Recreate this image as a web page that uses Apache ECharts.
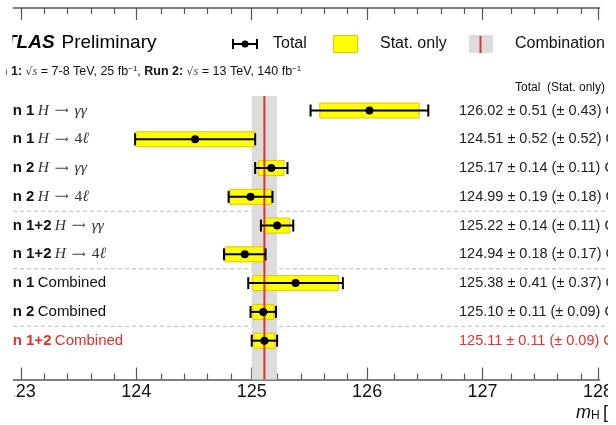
<!DOCTYPE html>
<html><head><meta charset="utf-8">
<script src="https://cdn.jsdelivr.net/npm/echarts@6/dist/echarts.min.js"></script>
<style>html,body{margin:0;padding:0;background:#fff}#c{width:616px;height:425px}</style>
</head><body><div id="c"></div>
<script>
// ---------- data ----------
const runs = ['Run 1','Run 1','Run 2','Run 2','Run 1+2','Run 1+2','Run 1','Run 2','Run 1+2'];
const channels = ['gg','4l','gg','4l','gg','4l','comb','comb','comb'];
const central = [126.02,124.51,125.17,124.99,125.22,124.94,125.38,125.10,125.11];
const totalErr = [0.51,0.52,0.14,0.19,0.14,0.18,0.41,0.11,0.11];
const statErr  = [0.43,0.52,0.11,0.18,0.11,0.17,0.37,0.09,0.09];
const combination = [125.11];
const combinationErr = [0.11];
const majorTicks = [123,124,125,126,127,128];
const minorPerMajor = 5;
const separators = [4.5,6.5,8.5];

const RED = '#e3302a';
const rowData = central.map((c,i)=>[i+1, c, totalErr[i], statErr[i]]);
const minorTicks = [];
for (let k=0;k<majorTicks.length-1;k++){
  for (let j=1;j<minorPerMajor;j++) minorTicks.push(+(majorTicks[k]+(majorTicks[k+1]-majorTicks[k])*j/minorPerMajor).toFixed(3));
}
const XMIN = 122.932, XMAX = 128.014;
const AX = '#555';

function rowLabel(i){
  const red = i===runs.length-1;
  const sfx = red ? 'R' : '';
  let ch;
  if (channels[i]==='gg') ch = '{hi|H}{ar|  ⟶  }{hi|γγ}';
  else if (channels[i]==='4l') ch = '{hi|H}{ar|  ⟶  }{hn|4}{hi|ℓ}';
  else ch = '{c'+sfx+'|Combined}';
  return '{b'+sfx+'|'+runs[i]+'} '+ch;
}
function mkRich(color){
  return {
    b:{fontFamily:'Liberation Sans',fontWeight:'bold',fontSize:15,fill:color},
    c:{fontFamily:'Liberation Sans',fontSize:15,fill:color}
  };
}
const richAll = Object.assign({
  hi:{fontFamily:'Liberation Serif',fontStyle:'italic',fontSize:15.5,fill:'#333'},
  hn:{fontFamily:'Liberation Serif',fontSize:15.5,fill:'#333'},
  ar:{fontFamily:'DejaVu Sans',fontSize:9.5,fill:'#444'}
}, mkRich('#111'));
const richRed = mkRich(RED);
for (const k in richRed) richAll[k+'R'] = richRed[k];

const chart = echarts.init(document.getElementById('c'), null, {renderer:'canvas'});

const gridBox = {left:13, right:10, top:8, bottom:45.5, containLabel:false};
const xBase = {type:'value', min:XMIN, max:XMAX, splitLine:{show:false}};
const tickStyle = {color:AX, width:1.2};
const option = {
  animation:false,
  grid:[Object.assign({}, gridBox), Object.assign({}, gridBox)],
  xAxis:[
    Object.assign({}, xBase, {gridIndex:0, position:'bottom',
      axisLine:{show:true, onZero:false, lineStyle:{color:AX,width:1.5}},
      axisTick:{show:true, inside:true, length:12, customValues:majorTicks, lineStyle:tickStyle},
      axisLabel:{show:true, customValues:majorTicks, margin:4, fontSize:18, color:'#111', fontFamily:'Liberation Sans',
        alignMinLabel:'center', alignMaxLabel:'center', hideOverlap:false}}),
    Object.assign({}, xBase, {gridIndex:0, position:'top',
      axisLine:{show:true, onZero:false, lineStyle:{color:AX,width:1.5}},
      axisTick:{show:true, inside:true, length:12, customValues:majorTicks, lineStyle:tickStyle},
      axisLabel:{show:false}}),
    Object.assign({}, xBase, {gridIndex:1, position:'bottom',
      axisLine:{show:false, onZero:false},
      axisTick:{show:true, inside:true, length:6, customValues:minorTicks, lineStyle:tickStyle},
      axisLabel:{show:false}}),
    Object.assign({}, xBase, {gridIndex:1, position:'top',
      axisLine:{show:false, onZero:false},
      axisTick:{show:true, inside:true, length:6, customValues:minorTicks, lineStyle:tickStyle},
      axisLabel:{show:false}})
  ],
  yAxis:[
    {gridIndex:0, type:'value', inverse:true, min:-2.563, max:10.35, show:false},
    {gridIndex:1, type:'value', inverse:true, min:-2.563, max:10.35, show:false}
  ],
  series:[
    { // separators
      type:'custom', silent:true, data:separators.map(v=>[v]), z:1,
      renderItem:(params, api)=>{
        const y = api.coord([XMIN, api.value(0)])[1];
        const cs = params.coordSys;
        return {type:'line', shape:{x1:cs.x, y1:y, x2:cs.x+cs.width+10, y2:y},
          style:{stroke:'#b8b8b8', lineWidth:1, lineDash:[4,3]}};
      }
    },
    { // combination band
      type:'custom', silent:true, data:combination.map((c,i)=>[c, combinationErr[i]]), z:2,
      renderItem:(params, api)=>{
        const c = api.value(0), e = api.value(1);
        const a = api.coord([c-e, 0.5]), b = api.coord([c+e, 0.5]);
        const cs = params.coordSys;
        return {type:'rect', shape:{x:a[0], y:a[1], width:b[0]-a[0], height:cs.y+cs.height-a[1]},
          style:{fill:'#dcdcdc'}};
      }
    },
    { // stat boxes
      type:'custom', silent:true, data:rowData, z:3,
      renderItem:(params, api)=>{
        const r = api.value(0), c = api.value(1), s = api.value(3);
        const a = api.coord([c-s, r]), b = api.coord([c+s, r]);
        const h = 15;
        return {type:'rect', shape:{x:a[0], y:a[1]-h/2, width:b[0]-a[0], height:h},
          style:{fill:'#ffff00', stroke:'#ecc000', lineWidth:1}};
      }
    },
    { // combination line
      type:'custom', silent:true, data:combination.map(c=>[c]), z:4,
      renderItem:(params, api)=>{
        const c = api.value(0);
        const a = api.coord([c, 0.5]);
        const cs = params.coordSys;
        return {type:'line', shape:{x1:a[0], y1:a[1], x2:a[0], y2:cs.y+cs.height},
          style:{stroke:RED, lineWidth:2}};
      }
    },
    { // error bars, points, texts
      type:'custom', silent:true, data:rowData, z:5,
      renderItem:(params, api)=>{
        const i = params.dataIndex;
        const r = api.value(0), c = api.value(1), t = api.value(2), s = api.value(3);
        const p = api.coord([c, r]);
        const L = api.coord([c-t, r]), R = api.coord([c+t, r]);
        const y = p[1], cap = 6;
        const red = i===runs.length-1;
        const txt = c.toFixed(2)+' ± '+t.toFixed(2)+' (± '+s.toFixed(2)+') GeV';
        return {type:'group', children:[
          {type:'line', shape:{x1:L[0], y1:y, x2:R[0], y2:y}, style:{stroke:'#000', lineWidth:2}},
          {type:'line', shape:{x1:L[0], y1:y-cap, x2:L[0], y2:y+cap}, style:{stroke:'#000', lineWidth:2}},
          {type:'line', shape:{x1:R[0], y1:y-cap, x2:R[0], y2:y+cap}, style:{stroke:'#000', lineWidth:2}},
          {type:'circle', shape:{cx:p[0], cy:y, r:4}, style:{fill:'#000'}},
          {type:'text', style:{x:-7.3, y:y, text:rowLabel(i), rich:richAll, verticalAlign:'middle', align:'left'}},
          {type:'text', style:{x:459, y:y, text:txt, fontFamily:'Liberation Sans', fontSize:14.5,
             fill: red ? RED : '#222', verticalAlign:'middle', align:'left'}}
        ]};
      }
    }
  ],
  graphic:[
    // white margins of the cropped frame
    {type:'rect', z:100, shape:{x:0, y:0, width:12.5, height:60}, style:{fill:'#fff'}},
    {type:'rect', z:100, shape:{x:0, y:60, width:6, height:35}, style:{fill:'#fff'}},
    {type:'rect', z:100, shape:{x:0, y:95, width:12.5, height:290}, style:{fill:'#fff'}},
    {type:'rect', z:100, shape:{x:0, y:383, width:14.5, height:42}, style:{fill:'#fff'}},
    {type:'rect', z:100, shape:{x:608, y:0, width:8, height:425}, style:{fill:'#fff'}},
    {type:'text', x:-7.3, y:43, style:{text:'ATLAS', fontFamily:'Liberation Sans', fontWeight:'bold', fontStyle:'italic', fontSize:19, fill:'#000', verticalAlign:'middle'}},
    {type:'text', x:61.5, y:43, style:{text:'Preliminary', fontFamily:'Liberation Sans', fontSize:19, fill:'#000', verticalAlign:'middle'}},
    {type:'text', x:-16.8, y:72, style:{
      verticalAlign:'middle',
      text:'{b|Run 1:} {s|√}{si|s}{t| = 7-8 TeV, 25 fb}{sup|−1}{t|, }{b|Run 2:} {s|√}{si|s}{t| = 13 TeV, 140 fb}{sup|−1}',
      rich:{
        b:{fontFamily:'Liberation Sans',fontWeight:'bold',fontSize:12.5,fill:'#111'},
        t:{fontFamily:'Liberation Sans',fontSize:12.5,fill:'#111'},
        s:{fontFamily:'DejaVu Sans',fontSize:11,fill:'#444'},
        si:{fontFamily:'Liberation Serif',fontStyle:'italic',fontSize:12.5,fill:'#444'},
        sup:{fontFamily:'Liberation Sans',fontSize:8,fill:'#111',verticalAlign:'top',padding:[0,0,6,0]}
      }}},
    {type:'text', x:605, y:88, style:{text:'Total  (Stat. only)', fontFamily:'Liberation Sans', fontSize:12, fill:'#111', align:'right', verticalAlign:'middle'}},
    // legend: Total
    {type:'line', shape:{x1:233, y1:44, x2:257, y2:44}, style:{stroke:'#000', lineWidth:2}},
    {type:'line', shape:{x1:233, y1:39, x2:233, y2:49}, style:{stroke:'#000', lineWidth:2}},
    {type:'line', shape:{x1:257, y1:39, x2:257, y2:49}, style:{stroke:'#000', lineWidth:2}},
    {type:'circle', shape:{cx:245, cy:44, r:3.5}, style:{fill:'#000'}},
    {type:'text', x:273, y:44, style:{text:'Total', fontFamily:'Liberation Sans', fontSize:16, fill:'#111', verticalAlign:'middle'}},
    // legend: Stat only
    {type:'rect', shape:{x:333.5, y:35.5, width:24, height:17}, style:{fill:'#ffff00', stroke:'#ecc000', lineWidth:1}},
    {type:'text', x:380, y:44, style:{text:'Stat. only', fontFamily:'Liberation Sans', fontSize:16, fill:'#111', verticalAlign:'middle'}},
    // legend: Combination
    {type:'rect', shape:{x:469, y:35, width:24, height:18}, style:{fill:'#dcdcdc'}},
    {type:'line', shape:{x1:480.5, y1:36, x2:480.5, y2:53}, style:{stroke:RED, lineWidth:2}},
    {type:'text', x:515, y:44, style:{text:'Combination', fontFamily:'Liberation Sans', fontSize:16, fill:'#111', verticalAlign:'middle'}},
    // axis title
    {type:'text', x:576, y:413, style:{
      verticalAlign:'middle',
      text:'{m|m}{h|H} {t|[GeV]}',
      rich:{
        m:{fontFamily:'Liberation Sans',fontStyle:'italic',fontSize:18,fill:'#111'},
        h:{fontFamily:'Liberation Sans',fontSize:12,fill:'#111',padding:[6,0,0,0]},
        t:{fontFamily:'Liberation Sans',fontSize:18,fill:'#111'}
      }}}
  ]
};
chart.setOption(option);
</script>
</body></html>
